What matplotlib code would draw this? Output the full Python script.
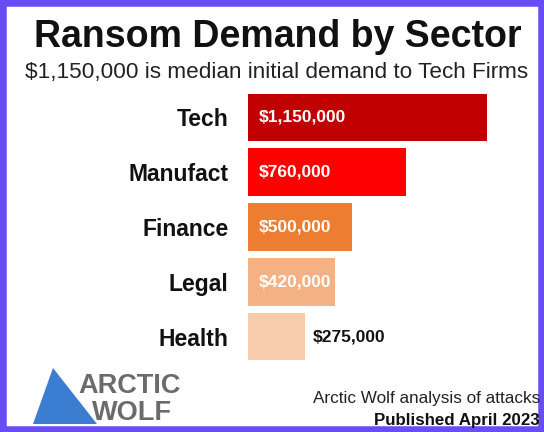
import matplotlib
matplotlib.use("Agg")
import matplotlib.pyplot as plt
from matplotlib.patches import Rectangle, Polygon

plt.rcParams['font.family'] = ['Liberation Sans', 'DejaVu Sans']

# data
sectors = ["Tech", "Manufact", "Finance", "Legal", "Health"]
demand = [1150000, 760000, 500000, 420000, 275000]
labels = ["$1,150,000", "$760,000", "$500,000", "$420,000", "$275,000"]
colors = ["#c00000", "#ff0000", "#ed7d31", "#f4b183", "#f8cbad"]

W, H = 544, 432
fig = plt.figure(figsize=(W / 100, H / 100), dpi=100)

def fx(px):
    return px / W

def fy(py):
    return 1 - py / H

# purple frame
fig.patches.append(Rectangle((0, 0), 1, 1, transform=fig.transFigure,
                             fill=False, edgecolor="#6a4cf5", linewidth=9))

fig.text(fx(278), fy(47), "Ransom Demand by Sector", ha="center", va="baseline",
         fontsize=27, fontweight="bold", color="#111111")
fig.text(fx(277), fy(78), "$1,150,000 is median initial demand to Tech Firms",
         ha="center", va="baseline", fontsize=16.2, color="#222222")

# bars
ax = fig.add_axes([fx(248), fy(364), fx(544) - fx(248), fy(90) - fy(364)])
ax.barh(range(len(sectors)), demand, height=0.87, color=colors)
ax.set_xlim(0, 296 / 207.8 * 1e6)
ax.set_ylim(4.5, -0.5)
ax.set_yticks(range(len(sectors)))
ax.set_yticklabels(sectors, fontsize=16.5, fontweight="bold", color="#111111")
ax.tick_params(axis="y", length=0, pad=14)
ax.set_xticks([])
for s in ax.spines.values():
    s.set_visible(False)
ax.patch.set_alpha(0)

for i, (v, t) in enumerate(zip(demand, labels)):
    if v > 300000:
        ax.text(0.05e6, i, t, ha="left", va="center", fontsize=12.5,
                fontweight="bold", color="white")
    else:
        ax.text(v + 0.035e6, i, t, ha="left", va="center", fontsize=12.5,
                fontweight="bold", color="#111111")

# logo
fig.patches.append(Polygon([(fx(33), fy(424)), (fx(53), fy(368)), (fx(97), fy(424))],
                           closed=True, transform=fig.transFigure,
                           facecolor="#3b7dd0", edgecolor="none"))
fig.text(fx(78), fy(393), "ARCTIC", ha="left", va="baseline", fontsize=19.5,
         fontweight="bold", color="#6b6b6b")
fig.text(fx(92), fy(420), "WOLF", ha="left", va="baseline", fontsize=19.5,
         fontweight="bold", color="#6b6b6b")

fig.text(fx(540), fy(403), "Arctic Wolf analysis of attacks", ha="right",
         va="baseline", fontsize=12.3, color="#222222")
fig.text(fx(540), fy(425), "Published April 2023", ha="right", va="baseline",
         fontsize=12.2, fontweight="bold", color="#111111")

fig.savefig("out.png", dpi=100)
